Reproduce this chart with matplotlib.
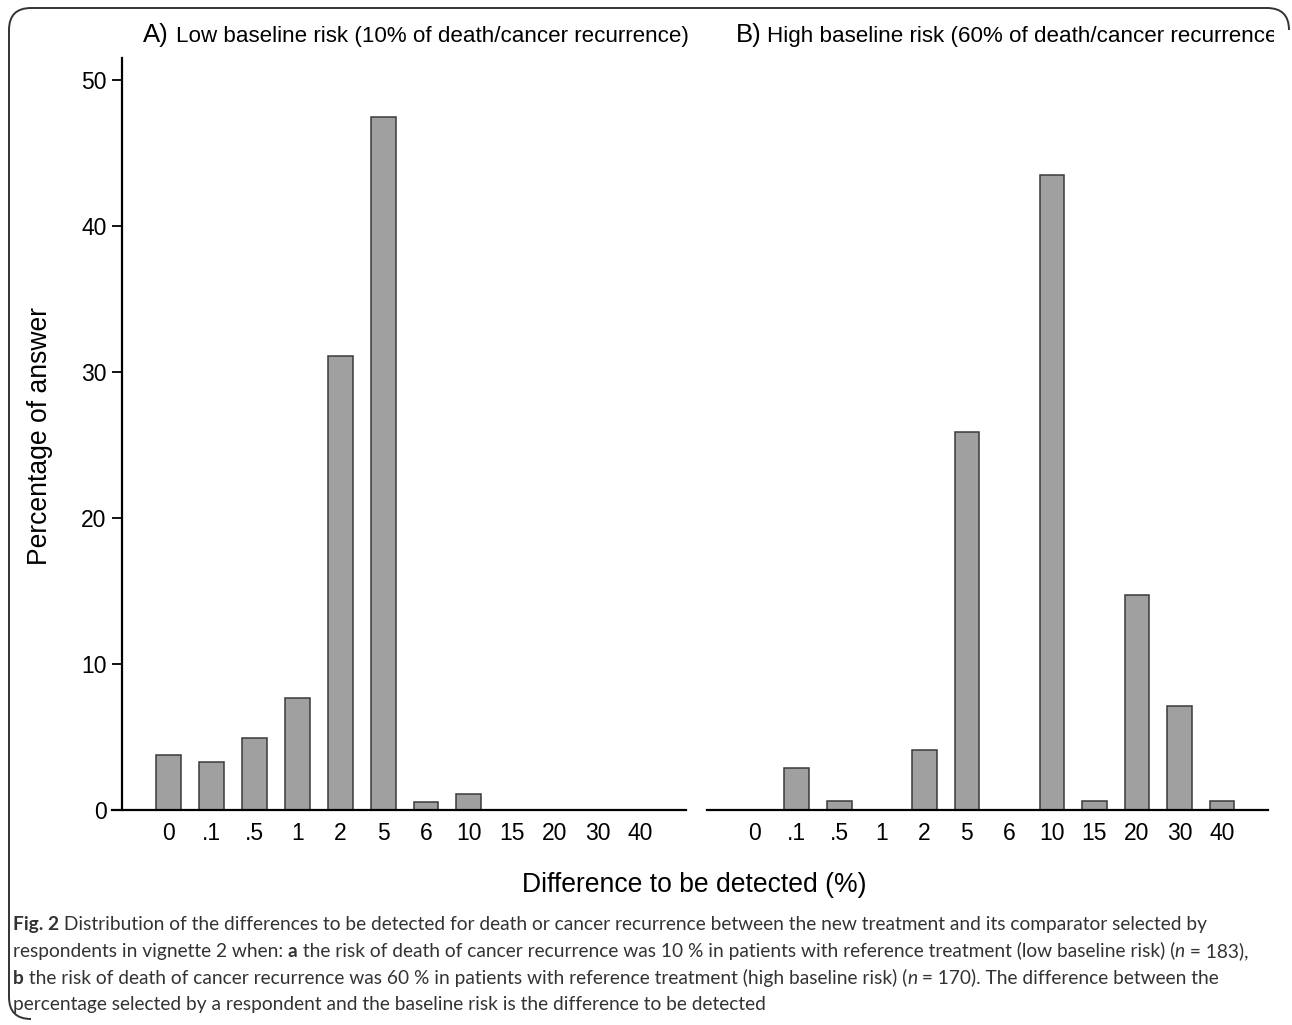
import numpy as np
import matplotlib
matplotlib.use("Agg")
import matplotlib.pyplot as plt
from matplotlib.path import Path
from matplotlib.patches import PathPatch
from matplotlib.transforms import Bbox

# ---------------- data ----------------
categories = ["0", ".1", ".5", "1", "2", "5", "6", "10", "15", "20", "30", "40"]
low_risk_pct = [3.8, 3.3, 4.9, 7.7, 31.1, 47.5, 0.55, 1.1, 0, 0, 0, 0]
high_risk_pct = [0, 2.9, 0.6, 0, 4.1, 25.9, 0, 43.5, 0.6, 14.7, 7.1, 0.6]
yticks = [0, 10, 20, 30, 40, 50]
title_a = ("A)", "Low baseline risk (10% of death/cancer recurrence)")
title_b = ("B)", "High baseline risk (60% of death/cancer recurrence)")
ylabel = "Percentage of answer"
xlabel = "Difference to be detected (%)"

W, H = 1292, 1025
fig = plt.figure(figsize=(W / 100, H / 100), dpi=100)
renderer = fig.canvas.get_renderer()
FONT = "Liberation Sans"
CAPFONT = "Lato"


def rect(x0, y0, x1, y1):
    return [x0 / W, 1 - y1 / H, (x1 - x0) / W, (y1 - y0) / H]


def fx(x):
    return x / W


def fy(y):
    return 1 - y / H


def fit_size(text, target, family, weight="normal", style="normal", base=20.0):
    t = fig.text(0, 0, text, fontsize=base, family=family, weight=weight, style=style)
    w = t.get_window_extent(renderer).width
    t.remove()
    return base * target / w


bar_color = "#a0a0a0"
edge_color = "#3a3a3a"
bar_w = 0.58
x = np.arange(len(categories))
ymax = (810 - 58) / 14.6

tick_fs = 16.5
lab_fs = fit_size(xlabel, 344, FONT)

# left panel
axL = fig.add_axes(rect(112, 58, 686, 810))
axL.bar(x, low_risk_pct, width=bar_w, color=bar_color, edgecolor=edge_color, linewidth=1.1)
axL.set_xlim(-1.32, 12.06)
axL.set_ylim(0, ymax)
axL.spines["left"].set_position(("data", -1.09))
axL.spines["right"].set_visible(False)
axL.spines["top"].set_visible(False)
for s in ("left", "bottom"):
    axL.spines[s].set_linewidth(1.6)
axL.set_yticks(yticks)
axL.tick_params(axis="y", direction="out", length=7, width=1.3, labelsize=tick_fs, pad=4)
axL.set_xticks(x)
axL.set_xticklabels(categories)
axL.tick_params(axis="x", length=0, labelsize=tick_fs, pad=9)

# right panel
axR = fig.add_axes(rect(707, 58, 1268, 810))
axR.bar(x, high_risk_pct, width=bar_w, color=bar_color, edgecolor=edge_color, linewidth=1.1)
axR.set_xlim(-1.11, 12.08)
axR.set_ylim(0, ymax)
for s in ("left", "right", "top"):
    axR.spines[s].set_visible(False)
axR.spines["bottom"].set_linewidth(1.6)
axR.set_yticks([])
axR.set_xticks(x)
axR.set_xticklabels(categories)
axR.tick_params(axis="x", length=0, labelsize=tick_fs, pad=9)

for ax in (axL, axR):
    for lbl in ax.get_xticklabels() + ax.get_yticklabels():
        lbl.set_family(FONT)

# titles
title_fs = fit_size(title_a[1], 510, FONT)
fig.text(fx(143), fy(42), title_a[0], fontsize=title_fs * 1.15, family=FONT, va="baseline")
fig.text(fx(176), fy(42), title_a[1], fontsize=title_fs, family=FONT, va="baseline")
fig.text(fx(736), fy(42), title_b[0], fontsize=title_fs * 1.15, family=FONT, va="baseline")
tb = fig.text(fx(767), fy(42), title_b[1], fontsize=title_fs, family=FONT, va="baseline")
tb.set_clip_box(Bbox([[0, 0], [1274, H]]))
tb.set_clip_on(True)

# axis labels
fig.text(fx(694), fy(885), xlabel, fontsize=lab_fs, family=FONT, ha="center", va="center")
fig.text(fx(40), fy(436), ylabel, fontsize=lab_fs, family=FONT, ha="center", va="center",
         rotation=90)

# caption with mixed styles
cap_color = "#333333"
line1 = [("Fig. 2", "bold", "normal"),
         (" Distribution of the differences to be detected for death or cancer recurrence between the new treatment and its comparator selected by", "normal", "normal")]
line2 = [("respondents in vignette 2 when: ", "normal", "normal"), ("a", "bold", "normal"),
         (" the risk of death of cancer recurrence was 10 % in patients with reference treatment (low baseline risk) (", "normal", "normal"),
         ("n", "normal", "italic"), (" = 183),", "normal", "normal")]
line3 = [("b", "bold", "normal"),
         (" the risk of death of cancer recurrence was 60 % in patients with reference treatment (high baseline risk) (", "normal", "normal"),
         ("n", "normal", "italic"), (" = 170). The difference between the", "normal", "normal")]
line4 = [("percentage selected by a respondent and the baseline risk is the difference to be detected", "normal", "normal")]


def runs_width(runs, fs):
    tot = 0
    for txt, w, st in runs:
        t = fig.text(0, 0, txt, fontsize=fs, family=CAPFONT, weight=w, style=st)
        tot += t.get_window_extent(renderer).width
        t.remove()
    return tot


cap_fs = min(12 * 1249 / runs_width(line1, 12),
             12 * 1240 / runs_width(line2, 12),
             12 * 1208 / runs_width(line3, 12))


def draw_runs(x0, yb, runs):
    xc = x0
    for txt, w, st in runs:
        t = fig.text(fx(xc), fy(yb), txt, fontsize=cap_fs, family=CAPFONT, weight=w, style=st,
                     color=cap_color, va="baseline")
        xc += t.get_window_extent(renderer).width


for i, runs in enumerate([line1, line2, line3, line4]):
    draw_runs(13, 930 + i * 26.8, runs)

# border (rounded, open at bottom/right like reference)
r = 22
verts = [(1289, 30), (1289, 8), (1289 - r, 8),
         (9 + r, 8), (9, 8), (9, 8 + r),
         (9, 1019 - r), (9, 1019), (9 + r, 1019)]
codes = [Path.MOVETO, Path.CURVE3, Path.CURVE3,
         Path.LINETO, Path.CURVE3, Path.CURVE3,
         Path.LINETO, Path.CURVE3, Path.CURVE3]
verts_fig = [(fx(a), fy(b)) for a, b in verts]
fig.patches.append(PathPatch(Path(verts_fig, codes), transform=fig.transFigure, fill=False,
                             edgecolor="#333333", linewidth=1.4))

fig.savefig("out.png", dpi=100)
